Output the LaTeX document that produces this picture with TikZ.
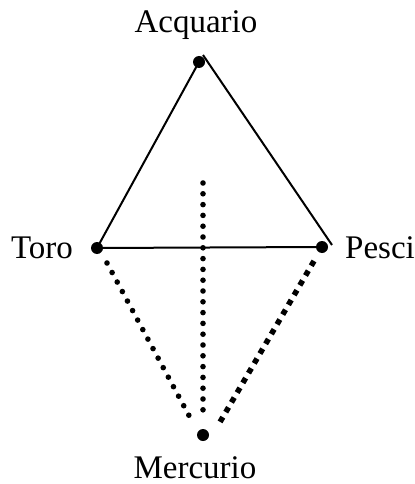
\documentclass[tikz,border=0pt]{standalone}
\usepackage{fontspec}
\setmainfont{Liberation Serif}
\begin{document}
\begin{tikzpicture}[x=1bp,y=-1bp,
  lbl/.style={font=\fontsize{33bp}{38bp}\selectfont, anchor=base, inner sep=0pt},
  pt/.style={circle, fill=black, inner sep=0pt, minimum size=12bp},
  solidline/.style={line width=2bp},
  rounddots/.style={line width=5.6bp, line cap=round, dash pattern=on 0bp off 10.8bp},
  squaredots/.style={line width=5.5bp, line cap=butt, dash pattern=on 5.5bp off 5.8bp}]
\useasboundingbox (0,0) rectangle (414,484);
% dots
\node[pt] (aq) at (199,62) {};
\node[pt] (to) at (97,248) {};
\node[pt] (pe) at (322,247) {};
\node[pt] (me) at (203,435) {};
% labels
\node[lbl] (aqL) at (196,33) {Acquario};
\node[lbl] (toL) at (42,258) {Toro};
\node[lbl] (peL) at (380,258) {Pesci};
\node[lbl] (meL) at (195,478) {Mercurio};
% helper coordinates
\coordinate (apex) at (203,55);
\coordinate (peEnd) at (332,245);
\coordinate (vTop) at (203,183);
\coordinate (vBot) at (203,420);
\coordinate (lTop) at (107,263);
\coordinate (lBot) at (193,423);
\coordinate (rTop) at (314,261);
\coordinate (rBot) at (220,422);
% solid lines
\draw[solidline] (aq.center) -- (to.center);
\draw[solidline] (apex) -- (peEnd);
\draw[solidline] (to.center) -- (pe.center);
% dotted lines
\draw[rounddots] (vTop) -- (vBot);
\draw[rounddots] (lTop) -- (lBot);
\draw[squaredots] (rTop) -- (rBot);
\end{tikzpicture}
\end{document}
